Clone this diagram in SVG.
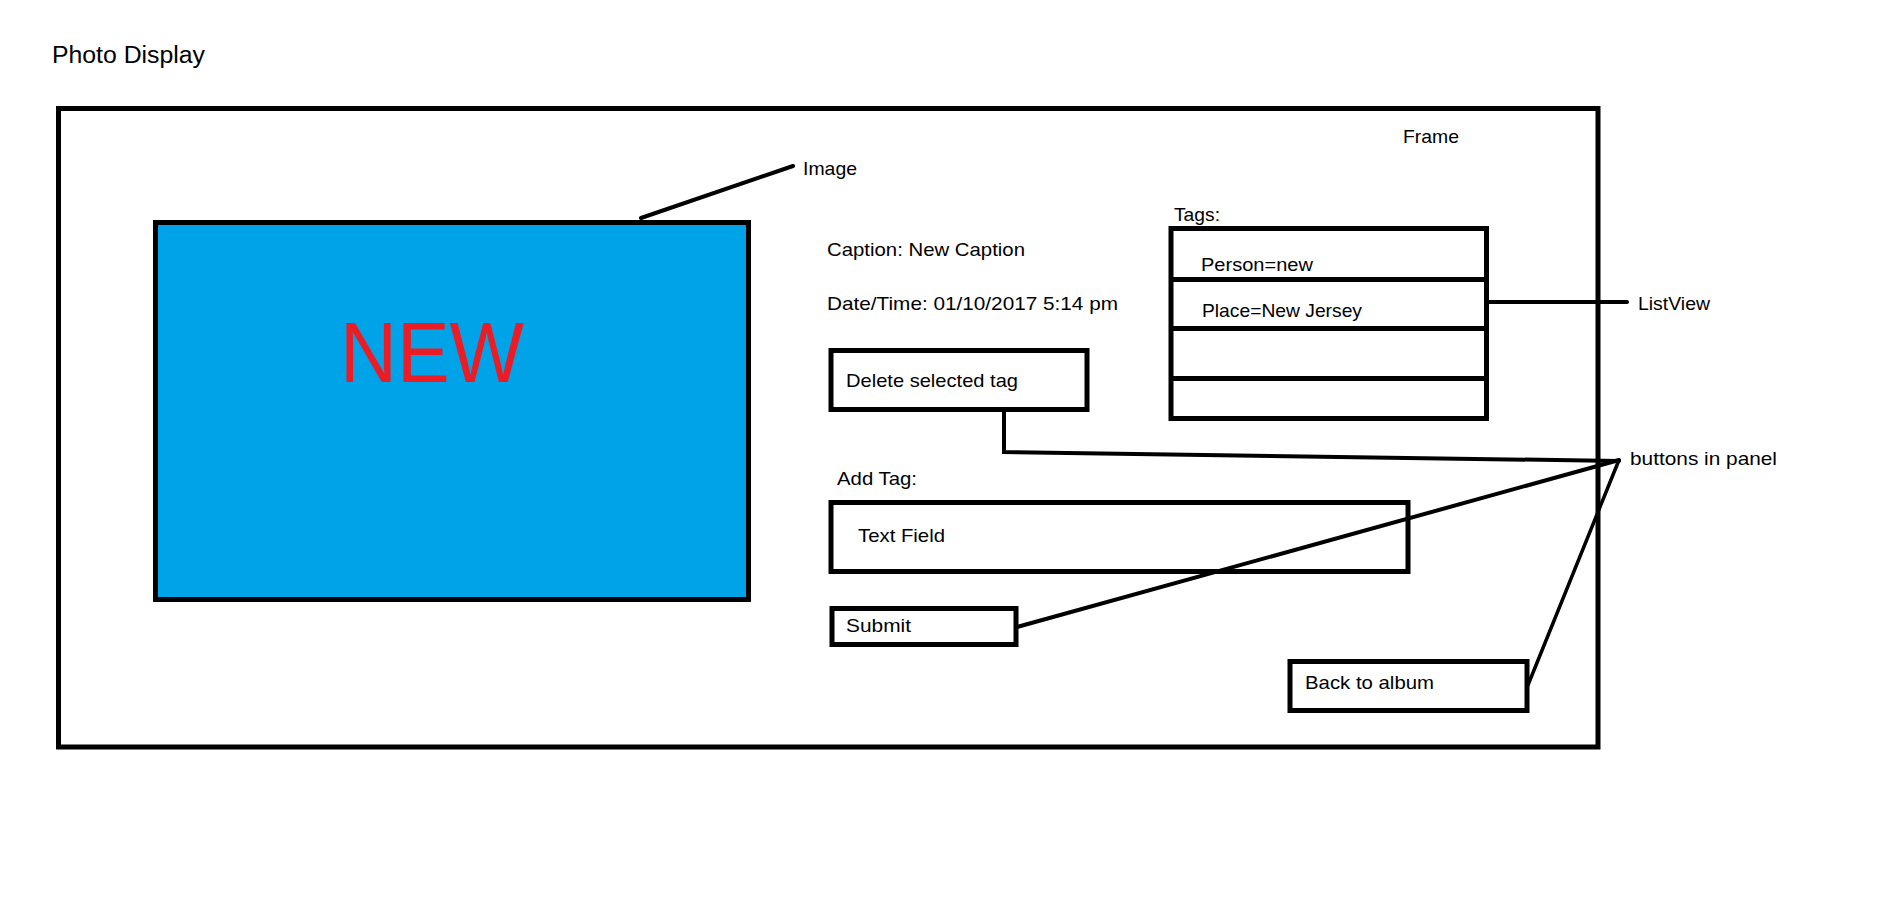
<svg xmlns="http://www.w3.org/2000/svg" width="1895" height="901" viewBox="0 0 1895 901">
<style>
text{font-family:"Liberation Sans",Arial,sans-serif;fill:#000;font-size:19px}
.title{font-size:23px}
.big{font-size:86px;fill:#ED1C24}
.box{fill:#fff;stroke:#000;stroke-width:5}
.ln{fill:none;stroke:#000;stroke-width:4;stroke-linecap:round;stroke-linejoin:miter}
</style>
<rect width="1895" height="901" fill="#fff"/>
<g id="title"><text class="title" x="52" y="63" textLength="153" lengthAdjust="spacingAndGlyphs">Photo Display</text></g>
<g id="frame">
<rect x="58.5" y="108.5" width="1539.5" height="638.5" fill="#fff" stroke="#000" stroke-width="5"/>
<text x="1403" y="143" textLength="56" lengthAdjust="spacingAndGlyphs">Frame</text>
</g>
<g id="image">
<rect x="155.5" y="222.5" width="593" height="377" fill="#00A2E8" stroke="#000" stroke-width="5"/>
<text class="big" x="340" y="382" textLength="184" lengthAdjust="spacingAndGlyphs">NEW</text>
</g>
<g id="image-label"><text x="803" y="175" textLength="54" lengthAdjust="spacingAndGlyphs">Image</text></g>
<g id="caption"><text x="827" y="256" textLength="198" lengthAdjust="spacingAndGlyphs">Caption: New Caption</text></g>
<g id="datetime"><text x="827" y="310" textLength="291" lengthAdjust="spacingAndGlyphs">Date/Time: 01/10/2017 5:14 pm</text></g>
<g id="listview">
<text x="1174" y="221" textLength="46" lengthAdjust="spacingAndGlyphs">Tags:</text>
<rect class="box" x="1171" y="228.5" width="315.5" height="190"/>
<line x1="1171" y1="279.5" x2="1486.5" y2="279.5" stroke="#000" stroke-width="5"/>
<line x1="1171" y1="328.5" x2="1486.5" y2="328.5" stroke="#000" stroke-width="5"/>
<line x1="1171" y1="378.5" x2="1486.5" y2="378.5" stroke="#000" stroke-width="5"/>
<text x="1201" y="271" textLength="112" lengthAdjust="spacingAndGlyphs">Person=new</text>
<text x="1202" y="317" textLength="160" lengthAdjust="spacingAndGlyphs">Place=New Jersey</text>
</g>
<g id="listview-label"><text x="1638" y="310" textLength="72" lengthAdjust="spacingAndGlyphs">ListView</text></g>
<g id="delete-btn">
<rect class="box" x="831" y="350.5" width="256" height="59"/>
<text x="846" y="387" textLength="172" lengthAdjust="spacingAndGlyphs">Delete selected tag</text>
</g>
<g id="add-tag"><text x="837" y="485" textLength="80" lengthAdjust="spacingAndGlyphs">Add Tag:</text></g>
<g id="text-field">
<rect class="box" x="831" y="502.5" width="577" height="69"/>
<text x="858" y="542" textLength="87" lengthAdjust="spacingAndGlyphs">Text Field</text>
</g>
<g id="submit-btn">
<rect class="box" x="832" y="608.5" width="184" height="36"/>
<text x="846" y="632" textLength="65" lengthAdjust="spacingAndGlyphs">Submit</text>
</g>
<g id="back-btn">
<rect class="box" x="1290" y="661.5" width="237" height="49"/>
<text x="1305" y="689" textLength="129" lengthAdjust="spacingAndGlyphs">Back to album</text>
</g>
<g id="buttons-label"><text x="1630" y="465" textLength="147" lengthAdjust="spacingAndGlyphs">buttons in panel</text></g>
<g id="connectors">
<line class="ln" x1="641" y1="218" x2="793" y2="166"/>
<line class="ln" x1="1488" y1="302" x2="1627" y2="302"/>
<polyline class="ln" points="1004,412 1004,452 1619,461"/>
<line class="ln" x1="1017" y1="627" x2="1619" y2="460"/>
<line class="ln" x1="1528" y1="685" x2="1619" y2="460" style="stroke-width:3.5"/>
</g>
</svg>
